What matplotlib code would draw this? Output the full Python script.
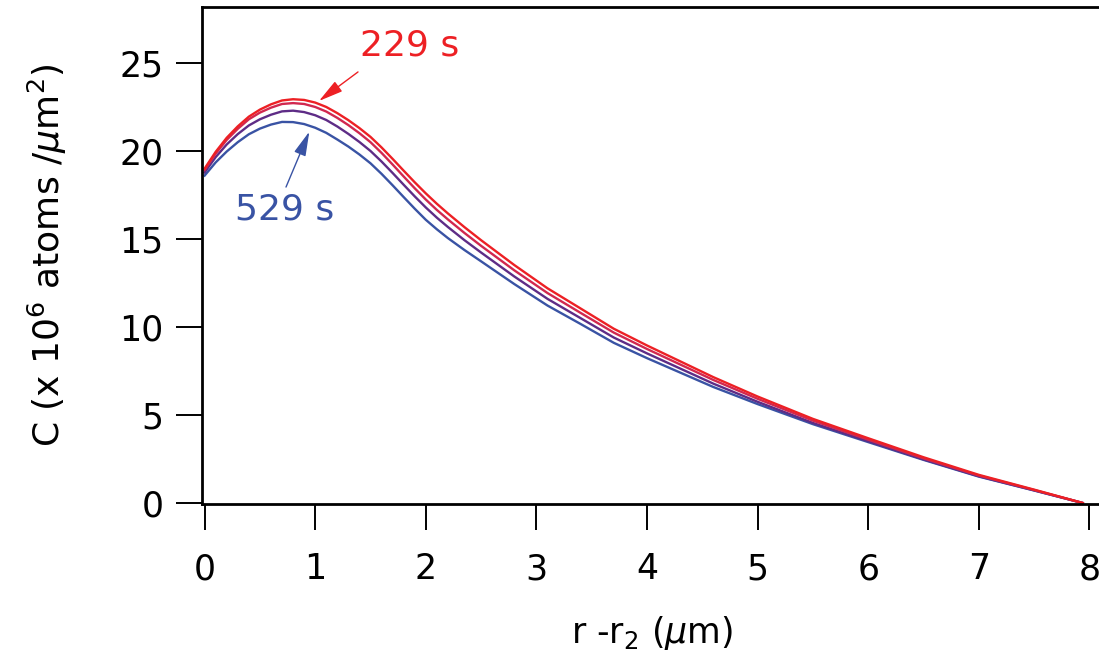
import matplotlib.pyplot as plt

# r - r2 positions (um)
x = [0, 0.1, 0.2, 0.3, 0.4, 0.5, 0.6, 0.7, 0.8, 0.9, 1.0, 1.1, 1.2, 1.3, 1.4,
     1.5, 1.6, 1.7, 1.8, 1.9, 2.0, 2.1, 2.2, 2.35, 2.5, 2.8, 3.1, 3.4, 3.7, 4.0,
     4.3, 4.6, 5.0, 5.5, 6.0, 6.5, 7.0, 7.5, 7.94]

# concentration (x 10^6 atoms / um^2)
c_229 = [19.0, 19.95, 20.75, 21.4, 21.95, 22.35, 22.65, 22.87, 22.94, 22.9, 22.75,
         22.5, 22.15, 21.75, 21.3, 20.8, 20.2, 19.55, 18.88, 18.22, 17.59, 17.0,
         16.45, 15.67, 14.93, 13.52, 12.2, 11.05, 9.9, 8.95, 8.05, 7.15, 6.05, 4.78,
         3.68, 2.6, 1.6, 0.76, 0.0]
c_329 = [18.92, 19.85, 20.63, 21.26, 21.8, 22.18, 22.46, 22.67, 22.72, 22.67, 22.5,
         22.24, 21.88, 21.47, 21.01, 20.5, 19.89, 19.23, 18.55, 17.88, 17.24, 16.65,
         16.11, 15.34, 14.61, 13.22, 11.93, 10.8, 9.68, 8.75, 7.87, 6.99, 5.92, 4.68,
         3.6, 2.54, 1.56, 0.74, 0.0]
c_429 = [18.78, 19.65, 20.37, 20.96, 21.45, 21.8, 22.06, 22.25, 22.29, 22.21, 22.03,
         21.76, 21.39, 20.97, 20.51, 20.0, 19.4, 18.75, 18.08, 17.42, 16.79, 16.21,
         15.68, 14.93, 14.23, 12.87, 11.6, 10.5, 9.4, 8.5, 7.64, 6.78, 5.75, 4.55,
         3.51, 2.48, 1.52, 0.72, 0.0]
c_529 = [18.6, 19.35, 19.97, 20.5, 20.95, 21.27, 21.5, 21.65, 21.64, 21.53, 21.32,
         21.03, 20.65, 20.25, 19.8, 19.3, 18.7, 18.05, 17.38, 16.72, 16.09, 15.55,
         15.05, 14.37, 13.73, 12.44, 11.22, 10.17, 9.1, 8.23, 7.41, 6.59, 5.62, 4.48,
         3.46, 2.45, 1.5, 0.71, 0.0]

red = '#ED2024'
blue = '#3953A4'
head = '-|>,head_length=0.6,head_width=0.15'

fig = plt.figure(figsize=(10.99, 6.57), dpi=100)
ax = fig.add_axes([202 / 1099, 153 / 657, 900 / 1099, 497 / 657])

# oldest on top
ax.plot(x, c_529, color=blue, lw=1.7)
ax.plot(x, c_429, color='#5E2C86', lw=1.7)
ax.plot(x, c_329, color='#D1284F', lw=1.7)
ax.plot(x, c_229, color=red, lw=1.7)

ax.annotate('', xy=(1.034, 22.84), xytext=(1.387, 24.49),
            arrowprops=dict(arrowstyle=head, mutation_scale=25, color=red,
                            lw=1, shrinkA=0, shrinkB=0))
ax.text(1.857, 26.0, '229 s', color=red, fontsize=26, ha='center', va='center')
ax.annotate('', xy=(0.947, 21.1), xytext=(0.736, 17.95),
            arrowprops=dict(arrowstyle=head, mutation_scale=25, color=blue,
                            lw=1, shrinkA=0, shrinkB=0))
ax.text(0.727, 16.65, '529 s', color=blue, fontsize=26, ha='center', va='center')

ax.set_xlim(-0.0235, 8.114)
ax.set_ylim(-0.057, 28.18)
ax.set_xticks(range(0, 9))
ax.set_yticks(range(0, 30, 5))

for s in ['left', 'bottom', 'top']:
    ax.spines[s].set_linewidth(2)
ax.spines['right'].set_visible(False)
ax.tick_params(direction='out', length=18.7, width=1.4, labelsize=25)
ax.tick_params(axis='x', pad=16)
ax.tick_params(axis='y', pad=9)

ax.set_xlabel(r'r -r$_2$ ($\mu$m)', fontsize=25)
ax.set_ylabel(r'C (x 10$^6$ atoms /$\mu$m$^2$)', fontsize=26)
ax.xaxis.set_label_coords(0.5, -0.222)
ax.yaxis.set_label_coords(-0.148, 0.5)

fig.savefig('out.png', dpi=100)
